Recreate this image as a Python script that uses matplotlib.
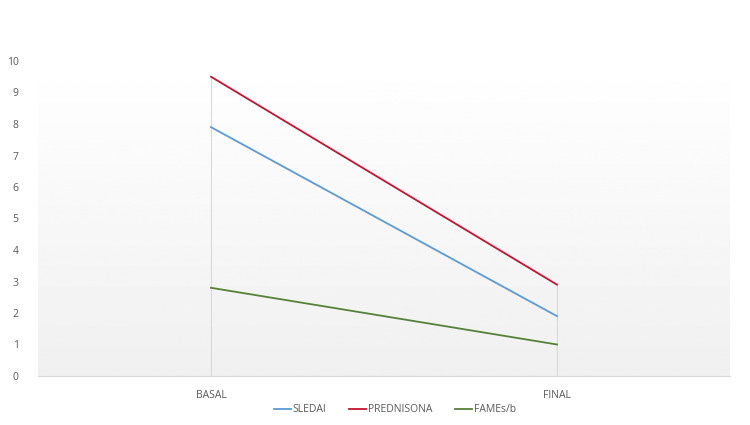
import numpy as np
import matplotlib
matplotlib.use("Agg")
import matplotlib.pyplot as plt

categories = ["BASAL", "FINAL"]
sledai = [7.9, 1.9]
prednisona = [9.5, 2.9]
fames = [2.8, 1.0]

plt.rcParams["font.family"] = ["Open Sans", "DejaVu Sans"]

fig = plt.figure(figsize=(7.5, 4.25), dpi=100)
ax = fig.add_axes([38 / 750, 49 / 425, 692 / 750, 315 / 425])

x = np.arange(len(categories))

# gradient background of plot area (white top -> light gray bottom)
grad = np.linspace(1.0, 0.94, 256).reshape(-1, 1)
ax.imshow(grad, extent=[-0.5, 1.5, 0, 10], aspect="auto", cmap="gray",
          vmin=0, vmax=1, origin="upper", zorder=0)

# drop lines
tops = np.maximum.reduce([sledai, prednisona, fames])
ax.vlines(x, 0, tops, color="#d9d9d9", lw=0.8, zorder=1)

ax.plot(x, sledai, color="#5b9bd5", lw=1.3, label="SLEDAI", zorder=3)
ax.plot(x, prednisona, color="#c8102e", lw=1.3, label="PREDNISONA", zorder=3)
ax.plot(x, fames, color="#548235", lw=1.3, label="FAMEs/b", zorder=3)

ax.set_xlim(-0.5, 1.5)
ax.set_ylim(0, 10)
ax.set_yticks(range(0, 11))
ax.set_xticks(x)
ax.set_xticklabels(categories)
ax.tick_params(axis="both", length=0, labelsize=7.5, colors="#595959")
ax.tick_params(axis="x", pad=10)
ax.tick_params(axis="y", pad=14)
for s in ["top", "right", "left"]:
    ax.spines[s].set_visible(False)
ax.spines["bottom"].set_color("#d9d9d9")

fig.legend(loc="center", bbox_to_anchor=(395 / 750, 1 - 410 / 425), ncol=3,
           frameon=False, fontsize=7.5, handlelength=1.6, handletextpad=0.2,
           columnspacing=2.2, labelcolor="#595959")

fig.savefig("out.png", dpi=100)
